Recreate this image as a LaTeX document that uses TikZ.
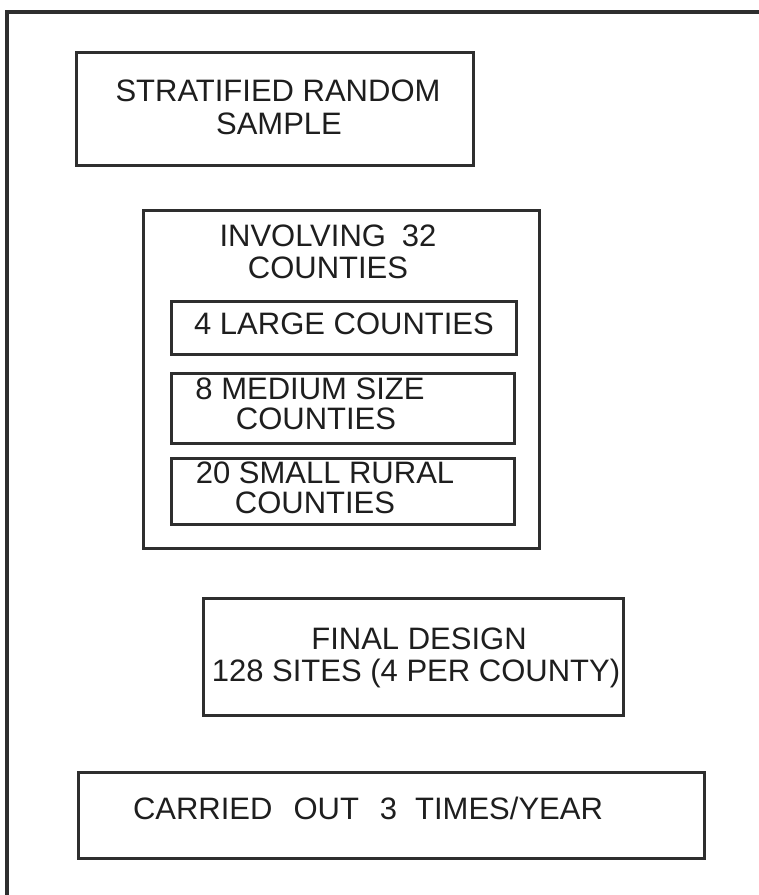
\documentclass[tikz,border=0pt]{standalone}
\usepackage{fontspec}
\setmainfont{Liberation Sans}
\definecolor{ink}{HTML}{2E2E2E}
\definecolor{txtc}{HTML}{1E1E1E}
\begin{document}
\begin{tikzpicture}[x=1pt,y=-1pt,
  box/.style={draw=ink, line width=3.3pt, rectangle, inner sep=0pt, anchor=north west},
  txt/.style={text=txtc, inner sep=0pt, anchor=base, font=\fontsize{31}{32}\selectfont}]
\useasboundingbox (0,0) rectangle (759,895);
% outer frame (left and top edges)
\draw[ink, line width=3.3pt] (7,895) -- (7,12) -- (759,12);
% box 1
\node[box, minimum width=397pt, minimum height=113pt] (b1) at (75,51) {};
\node[txt] (t1a) at (278,101) {STRATIFIED RANDOM};
\node[txt] (t1b) at (279,134) {SAMPLE};
% box 2 with inner boxes
\node[box, minimum width=396pt, minimum height=338pt] (b2) at (142,209) {};
\node[txt] (t2a) at (328,246) {INVOLVING\hspace{16pt}32};
\node[txt] (t2b) at (328,278) {COUNTIES};
\node[box, minimum width=345pt, minimum height=53pt] (ia) at (170,300) {};
\node[txt] (tia) at (344,334) {4 LARGE COUNTIES};
\node[box, minimum width=343pt, minimum height=70pt] (ib) at (170,372) {};
\node[txt] (tib1) at (310,399) {8 MEDIUM SIZE};
\node[txt] (tib2) at (316,429) {COUNTIES};
\node[box, minimum width=343pt, minimum height=66pt] (ic) at (170,457) {};
\node[txt] (tic1) at (325,483) {20 SMALL RURAL};
\node[txt] (tic2) at (315,513) {COUNTIES};
% box 3
\node[box, minimum width=420pt, minimum height=117pt] (b3) at (202,597) {};
\node[txt] (t3a) at (419,649) {FINAL DESIGN};
\node[txt] (t3b) at (416,681) {128 SITES (4 PER COUNTY)};
% box 4
\node[box, minimum width=626pt, minimum height=86pt] (b4) at (77,771) {};
\node[txt] (t4) at (368,819) {CARRIED\hspace{21pt}OUT\hspace{21pt}3\hspace{18pt}TIMES/YEAR};
\end{tikzpicture}
\end{document}
